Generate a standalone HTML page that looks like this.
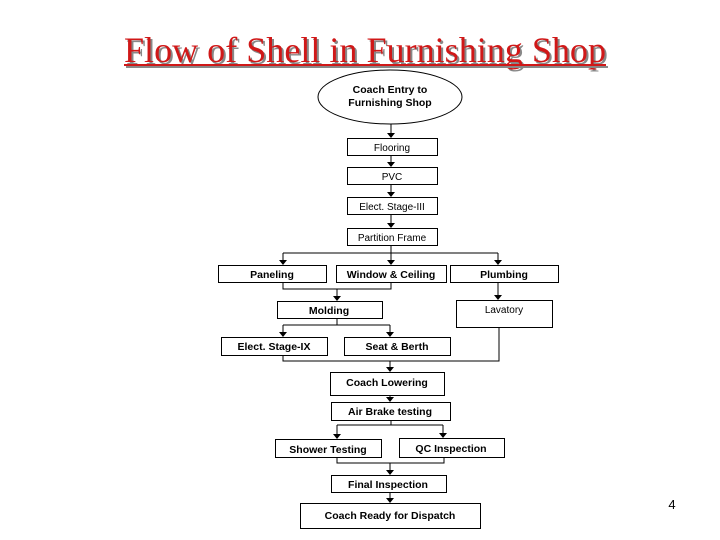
<!DOCTYPE html>
<html><head><meta charset="utf-8"><style>
html,body{margin:0;padding:0;background:#fff;}
svg{display:block;}
text{font-family:"Liberation Sans",Arial,sans-serif;font-size:10.5px;fill:#000;}
.b{font-weight:bold;}
</style></head><body>
<svg width="720" height="540" viewBox="0 0 720 540" xmlns="http://www.w3.org/2000/svg">
<text x="365" y="62" text-anchor="middle" textLength="482" lengthAdjust="spacingAndGlyphs" style="font-family:'Liberation Serif',serif;font-size:36px;fill:#888" dx="2" dy="2">Flow of Shell in Furnishing Shop</text>
<text x="365" y="62" text-anchor="middle" textLength="482" lengthAdjust="spacingAndGlyphs" style="font-family:'Liberation Serif',serif;font-size:36px;fill:#d01818">Flow of Shell in Furnishing Shop</text>
<rect x="126" y="66" width="482" height="2" fill="#888"/>
<rect x="124" y="64" width="482" height="2" fill="#d01818"/>
<g fill="none" stroke="#000" stroke-width="1">
<ellipse cx="390" cy="97" rx="72" ry="27" fill="#fff"/>
<rect x="347.5" y="138.5" width="90" height="17"/>
<rect x="347.5" y="167.5" width="90" height="17"/>
<rect x="347.5" y="197.5" width="90" height="17"/>
<rect x="347.5" y="228.5" width="90" height="17"/>
<rect x="218.5" y="265.5" width="108" height="17"/>
<rect x="336.5" y="265.5" width="110" height="17"/>
<rect x="450.5" y="265.5" width="108" height="17"/>
<rect x="277.5" y="301.5" width="105" height="17"/>
<rect x="456.5" y="300.5" width="96" height="27"/>
<rect x="221.5" y="337.5" width="106" height="18"/>
<rect x="344.5" y="337.5" width="106" height="18"/>
<rect x="330.5" y="372.5" width="114" height="23"/>
<rect x="331.5" y="402.5" width="119" height="18"/>
<rect x="275.5" y="439.5" width="106" height="18"/>
<rect x="399.5" y="438.5" width="105" height="19"/>
<rect x="331.5" y="475.5" width="115" height="17"/>
<rect x="300.5" y="503.5" width="180" height="25"/>
<path d="M391 124V137 M391 155V166 M391 184V196 M391 214V227 M391 245V253 M283 253H498 M283 253V264 M391 253V264 M498 253V264"/>
<path d="M283 282V289H391V282 M337 289V300 M498 282V299"/>
<path d="M337 318V325 M283 325H390 M283 325V336 M390 325V336"/>
<path d="M283 355V361H499V327 M390 361V371 M390 395V401 M391 420V425 M337 425H443 M337 425V438 M443 425V437"/>
<path d="M337 457V463H444V457 M390 463V474 M390 492V502"/>
</g>
<g fill="#000">
<path d="M387 133h8l-4 5z M387 162h8l-4 5z M387 192h8l-4 5z M387 223h8l-4 5z"/>
<path d="M279 260h8l-4 5z M387 260h8l-4 5z M494 260h8l-4 5z"/>
<path d="M333 296h8l-4 5z M494 295h8l-4 5z"/>
<path d="M279 332h8l-4 5z M386 332h8l-4 5z"/>
<path d="M386 367h8l-4 5z M386 397h8l-4 5z"/>
<path d="M333 434h8l-4 5z M439 433h8l-4 5z"/>
<path d="M386 470h8l-4 5z M386 498h8l-4 5z"/>
</g>
<text class="b" x="390" y="93" text-anchor="middle">Coach Entry to</text>
<text class="b" x="390" y="106" text-anchor="middle">Furnishing Shop</text>
<text x="392" y="151" text-anchor="middle" style="font-size:10px">Flooring</text>
<text x="392" y="180" text-anchor="middle" style="font-size:10px">PVC</text>
<text x="392" y="210" text-anchor="middle" style="font-size:10px">Elect. Stage-III</text>
<text x="392" y="241" text-anchor="middle" style="font-size:10px">Partition Frame</text>
<text class="b" x="272" y="278" text-anchor="middle">Paneling</text>
<text class="b" x="391" y="278" text-anchor="middle">Window &amp; Ceiling</text>
<text class="b" x="504" y="278" text-anchor="middle">Plumbing</text>
<text class="b" x="329" y="314" text-anchor="middle">Molding</text>
<text x="504" y="313" text-anchor="middle" style="font-size:10px">Lavatory</text>
<text class="b" x="274" y="350" text-anchor="middle">Elect. Stage-IX</text>
<text class="b" x="397" y="350" text-anchor="middle">Seat &amp; Berth</text>
<text class="b" x="387" y="386" text-anchor="middle">Coach Lowering</text>
<text class="b" x="390" y="415" text-anchor="middle">Air Brake testing</text>
<text class="b" x="328" y="453" text-anchor="middle">Shower Testing</text>
<text class="b" x="451" y="452" text-anchor="middle">QC Inspection</text>
<text class="b" x="388" y="488" text-anchor="middle">Final Inspection</text>
<text class="b" x="390" y="519" text-anchor="middle">Coach Ready for Dispatch</text>
<text x="672" y="509" text-anchor="middle" style="font-size:13px">4</text>
</svg>
</body></html>
